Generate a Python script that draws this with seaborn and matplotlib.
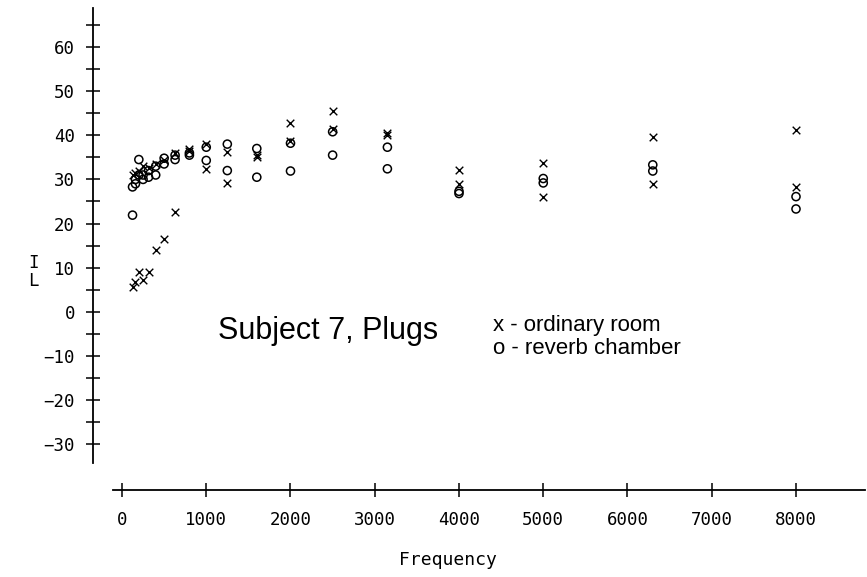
import matplotlib
matplotlib.use("Agg")
import matplotlib.pyplot as plt
import seaborn as sns
import pandas as pd
from matplotlib.ticker import FixedLocator

# ---- data ----
freqs = [125, 160, 200, 250, 315, 400, 500, 630, 800, 1000, 1250, 1600,
         2000, 2500, 3150, 4000, 5000, 6300, 8000]
room_1 = [5.7, 6.8, 9.1, 7.3, 9.1, 14.1, 16.6, 22.7, 36.5, 32.3, 29.1, 35.0,
          38.8, 41.5, 40.0, 29.0, 25.9, 29.0, 28.2]
room_2 = [31.0, 31.5, 32.0, 33.0, 32.5, 33.5, 34.5, 36.0, 37.0, 38.0, 36.1, 35.5,
          42.7, 45.6, 40.6, 32.1, 33.8, 39.5, 41.3]
reverb_1 = [28.3, 30.0, 34.5, 31.0, 32.0, 33.0, 34.8, 35.5, 36.0, 37.3, 38.0, 37.0,
            38.2, 40.8, 37.3, 27.3, 30.2, 33.3, 26.1]
reverb_2 = [21.9, 29.0, 31.0, 30.0, 30.5, 31.0, 33.5, 34.5, 35.5, 34.3, 32.0, 30.5,
            31.9, 35.5, 32.4, 26.8, 29.2, 31.9, 23.3]
x_ticks = [0, 1000, 2000, 3000, 4000, 5000, 6000, 7000, 8000]
y_ticks = [-30, -20, -10, 0, 10, 20, 30, 40, 50, 60]
title_text = "Subject 7, Plugs"
legend_lines = ["x - ordinary room", "o - reverb chamber"]

room = pd.DataFrame({"Frequency": freqs * 2, "IL": room_1 + room_2})
reverb = pd.DataFrame({"Frequency": freqs * 2, "IL": reverb_1 + reverb_2})

sns.set_style("white")
plt.rcParams.update({"text.color": "black", "xtick.color": "black",
                     "ytick.color": "black", "xtick.labelcolor": "black",
                     "ytick.labelcolor": "black"})
W, H = 867, 577
fig = plt.figure(figsize=(W / 100, H / 100), dpi=100)

# axes box in pixels: x 93..865, y 8..490
ax = fig.add_axes([93 / W, 1 - 490 / H, 772 / W, 482 / H])
ax.set_xlim(-344.2, 8819)
ax.set_ylim(-40.4, 68.85)

sns.scatterplot(data=room, x="Frequency", y="IL", ax=ax, marker="x",
                color="black", s=30, linewidth=1.0, legend=False, zorder=3)
sns.scatterplot(data=reverb, x="Frequency", y="IL", ax=ax, marker="o",
                facecolor="none", edgecolor="black", s=34, linewidth=1.1,
                legend=False, zorder=3)

for side in ("top", "right"):
    ax.spines[side].set_visible(False)
for side in ("left", "bottom"):
    ax.spines[side].set_linewidth(1.3)
    ax.spines[side].set_color("black")
ax.spines["left"].set_bounds(-34.3, 68.85)
ax.spines["bottom"].set_bounds(-107, 8819)

ax.xaxis.set_major_locator(FixedLocator(x_ticks))
ax.yaxis.set_major_locator(FixedLocator(y_ticks))
ax.yaxis.set_minor_locator(FixedLocator([v + 5 for v in y_ticks]))
ax.tick_params(axis="both", which="both", direction="inout", length=10,
               width=1.1, color="black", bottom=True, left=True)
ax.tick_params(axis="y", which="major", pad=8)
ax.tick_params(axis="x", which="major", pad=10)

mono = "DejaVu Sans Mono"
ax.set_xticklabels([str(v) for v in x_ticks])
ax.set_yticklabels([("\u2212" + str(-v)) if v < 0 else str(v) for v in y_ticks])
for lab in ax.get_xticklabels() + ax.get_yticklabels():
    lab.set_fontfamily(mono)
    lab.set_fontsize(12.5)
    lab.set_color("black")

ax.set_xlabel("")
ax.set_ylabel("")
fig.text(448 / W, 1 - 560 / H, "Frequency", family=mono, fontsize=13,
         ha="center", va="center", color="black")
fig.text(33 / W, 1 - 272 / H, "I\nL", family=mono, fontsize=12.5,
         ha="center", va="center", linespacing=1.0, color="black")

fig.text(218 / W, 1 - 331 / H, title_text, family="Liberation Sans",
         fontsize=22, ha="left", va="center", color="black")
fig.text(493 / W, 1 - 325 / H, legend_lines[0], family="Liberation Sans",
         fontsize=16, ha="left", va="center", color="black")
fig.text(493 / W, 1 - 348 / H, legend_lines[1], family="Liberation Sans",
         fontsize=16, ha="left", va="center", color="black")

fig.savefig("out.png", dpi=100)
